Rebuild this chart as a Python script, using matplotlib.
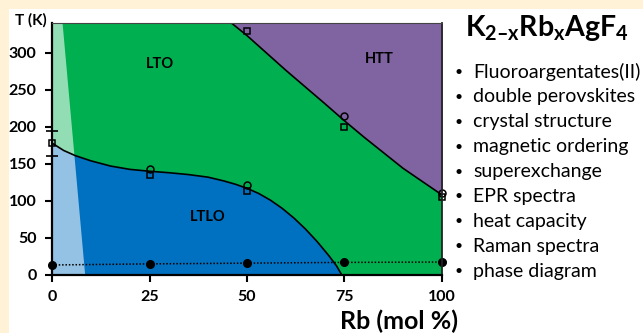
import matplotlib
matplotlib.use('Agg')
import matplotlib.pyplot as plt
import numpy as np

plt.rcParams['font.family'] = ['Lato', 'DejaVu Sans']
plt.rcParams['mathtext.fontset'] = 'custom'
plt.rcParams['mathtext.rm'] = 'Lato:bold'
plt.rcParams['mathtext.it'] = 'Lato:bold'
plt.rcParams['mathtext.bf'] = 'Lato:bold'

# phase boundaries (Rb mol %, T in K)
ltlo_x = [0, 3, 6, 10, 15, 20, 25, 30, 35, 40, 44, 47, 50, 53, 56, 59, 62, 65, 68, 71, 73, 74.3]
ltlo_T = [178, 168, 161, 154, 147, 142.5, 140, 138, 135.5, 132, 127, 122.5, 117, 110, 101, 90, 77, 62, 45, 26, 12, 0]
htt_x = [46, 50, 60, 70, 75, 80, 85, 90, 95, 100]
htt_T = [340, 323, 276, 231, 208, 186, 165, 144, 126, 108]
strip_x = [0, 0, 2.7, 8.5]
strip_T = [0, 340, 340, 0]

# measured points
sq_x = [0, 25, 50, 50, 75, 100]
sq_T = [178, 135, 113, 329, 200, 105]
circ_x = [25, 50, 75, 100]
circ_T = [143, 122, 215, 110]
low_x = [0, 25, 50, 75, 100]
low_T = [13.5, 15, 16, 17, 17.5]
err_x = [0]
err_T = [177]
err_dT = [17]

bullets = ['Fluoroargentates(II)', 'double perovskites', 'crystal structure',
           'magnetic ordering', 'superexchange', 'EPR spectra', 'heat capacity',
           'Raman spectra', 'phase diagram']

green = '#00B050'
purple = '#8064A2'
blue = '#0070C0'

fig = plt.figure(figsize=(6.43, 3.33), dpi=100)
fig.patch.set_facecolor('#FFF2D6')
bg = fig.add_axes([9/643, 0, 1 - 9/643, 1 - 9/333], zorder=-1)
bg.set_facecolor('white')
bg.set_xticks([])
bg.set_yticks([])
for s in bg.spines.values():
    s.set_visible(False)

ax = fig.add_axes([52/643, 1 - 275/333, 390/643, 252/333])
ax.set_facecolor(green)
ax.set_xlim(0, 100)
ax.set_ylim(0, 340)

ax.fill_between(htt_x, htt_T, 340, color=purple, lw=0, zorder=1)
ax.fill_between(ltlo_x, 0, ltlo_T, color=blue, lw=0, zorder=1)
ax.fill(strip_x, strip_T, color='white', alpha=0.58, lw=0, zorder=2)
ax.plot(ltlo_x, ltlo_T, color='black', lw=1.2, zorder=3)
ax.plot(htt_x, htt_T, color='black', lw=1.2, zorder=3)

ax.plot(low_x, low_T, color='black', ls=(0, (1, 1.2)), lw=1.1, zorder=4)
ax.plot(low_x, low_T, 'o', color='black', ms=5.5, zorder=5, clip_on=False)
ax.plot(sq_x, sq_T, 's', mfc='none', mec='black', ms=5, mew=1.1, zorder=5, clip_on=False)
ax.plot(circ_x, circ_T, 'o', mfc='none', mec='black', ms=5, mew=1.1, zorder=5, clip_on=False)
ax.errorbar(err_x, err_T, yerr=err_dT, fmt='none', ecolor='black', elinewidth=1.2,
            capsize=4, capthick=1.2, zorder=6, clip_on=False)

ax.text(27.7, 285, 'LTO', ha='center', va='center', fontsize=10.5, fontweight='bold')
ax.text(84, 292, 'HTT', ha='center', va='center', fontsize=10.5, fontweight='bold')
ax.text(40, 78, 'LTLO', ha='center', va='center', fontsize=10.5, fontweight='bold')

ax.set_xticks([0, 25, 50, 75, 100])
ax.set_yticks([0, 50, 100, 150, 200, 250, 300])
ax.tick_params(direction='out', length=5, width=1.5, labelsize=11.5, pad=6)
for lab in ax.get_xticklabels() + ax.get_yticklabels():
    lab.set_fontweight('bold')
for s in ['left', 'bottom']:
    ax.spines[s].set_linewidth(1.6)
    ax.spines[s].set_color('black')
ax.spines['right'].set_linewidth(1.3)
ax.spines['right'].set_color('#222222')
ax.spines['top'].set_linewidth(0.8)
ax.spines['top'].set_color('#444444')
for s in ax.spines.values():
    s.set_zorder(7)

fig.text(31/643, 1 - 20/333, 'T (K)', ha='center', va='center', fontsize=11, fontweight='bold')
fig.text(399/643, 1 - 321/333, 'Rb (mol %)', ha='center', va='center', fontsize=18, fontweight='bold')

fig.text(465/643, 1 - 28/333, '$K_{2\u2013x}Rb_{x}AgF_{4}$', ha='left', va='center', fontsize=20.5)
for i, b in enumerate(bullets):
    y = 1 - (72 + 24.9 * i) / 333
    fig.text(459/643, y, '\u2022', ha='center', va='center', fontsize=10)
    fig.text(473/643, y, b, ha='left', va='center', fontsize=14)

fig.savefig('out.png', dpi=100, facecolor=fig.get_facecolor())
